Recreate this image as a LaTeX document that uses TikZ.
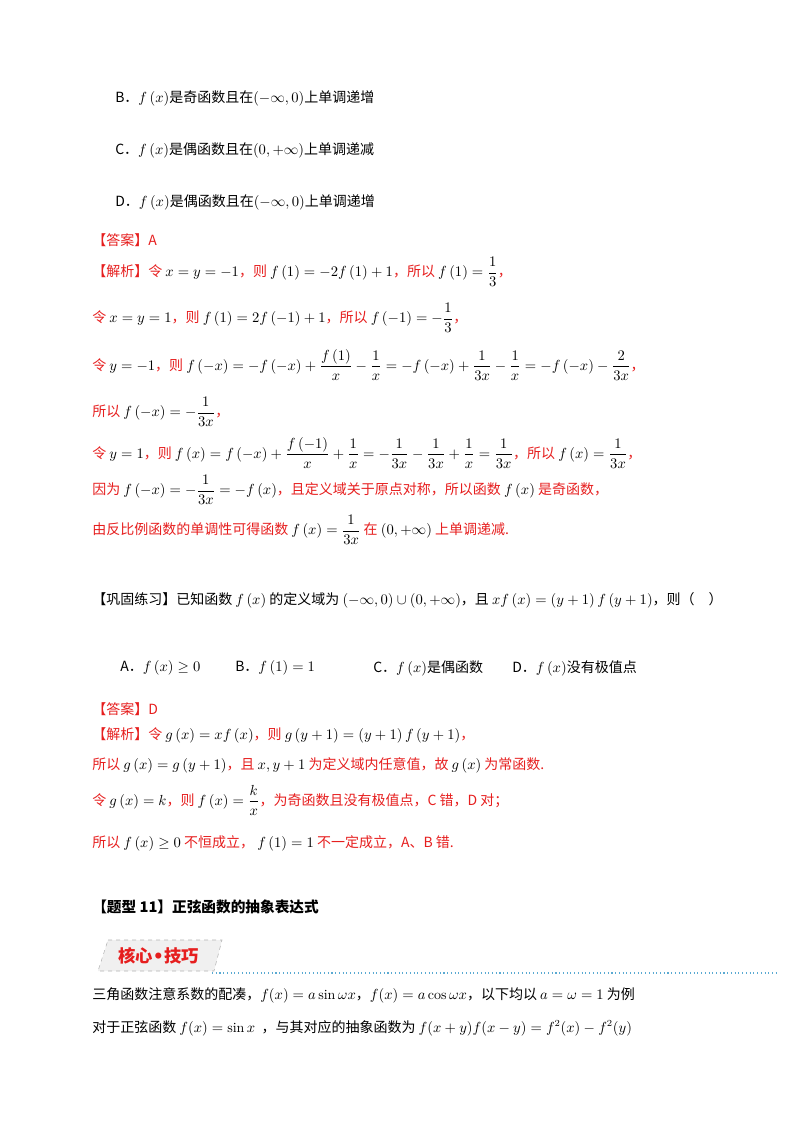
\documentclass[tikz,border=0pt]{standalone}
\usepackage{amsmath,amssymb}
\usepackage{fontspec}
\newfontfamily\cjk{Noto Sans CJK SC}
\definecolor{ansred}{RGB}{230,30,30}
\definecolor{linkblue}{RGB}{90,170,210}
\begin{document}
\begin{tikzpicture}[x=0.75pt,y=-0.75pt,
  txt/.style={anchor=west,inner sep=0pt,font=\cjk\fontsize{10.5}{12}\selectfont},
  red/.style={txt,text=ansred}]
\useasboundingbox (0,0) rectangle (800,1132);
\newcommand{\R}[1]{\textcolor{ansred}{#1}}
% options
\node[txt] (b) at (115,98) {B．$f\left(x\right)$是奇函数且在$\left(-\infty,0\right)$上单调递增};
\node[txt] (c) at (115,150) {C．$f\left(x\right)$是偶函数且在$\left(0,+\infty\right)$上单调递减};
\node[txt] (d) at (115,202) {D．$f\left(x\right)$是偶函数且在$\left(-\infty,0\right)$上单调递增};
\node[red] (ans1) at (92,240) {【答案】A};
\node[txt] (s1) at (92,272) {\R{【解析】令} $x=y=-1$\R{，则} $f\left(1\right)=-2f\left(1\right)+1$\R{，所以} $f\left(1\right)=\dfrac{1}{3}$\R{，}};
\node[txt] (s2) at (92,318) {\R{令} $x=y=1$\R{，则} $f\left(1\right)=2f\left(-1\right)+1$\R{，所以} $f\left(-1\right)=-\dfrac{1}{3}$\R{，}};
\node[txt] (s3) at (92,365) {\R{令} $y=-1$\R{，则} $f\left(-x\right)=-f\left(-x\right)+\dfrac{f\left(1\right)}{x}-\dfrac{1}{x}=-f\left(-x\right)+\dfrac{1}{3x}-\dfrac{1}{x}=-f\left(-x\right)-\dfrac{2}{3x}$\R{，}};
\node[txt] (s4) at (92,412) {\R{所以} $f\left(-x\right)=-\dfrac{1}{3x}$\R{，}};
\node[txt] (s5) at (92,453) {\R{令} $y=1$\R{，则} $f\left(x\right)=f\left(-x\right)+\dfrac{f\left(-1\right)}{x}+\dfrac{1}{x}=-\dfrac{1}{3x}-\dfrac{1}{3x}+\dfrac{1}{x}=\dfrac{1}{3x}$\R{，所以} $f\left(x\right)=\dfrac{1}{3x}$\R{，}};
\node[red] (s6) at (92,490) {因为 \textcolor{black}{$f\left(-x\right)=-\dfrac{1}{3x}=-f\left(x\right)$}，且定义域关于原点对称，所以函数 \textcolor{black}{$f\left(x\right)$} 是奇函数，};
\node[red] (s7) at (92,530) {由反比例函数的单调性可得函数 \textcolor{black}{$f\left(x\right)=\dfrac{1}{3x}$} 在 \textcolor{black}{$\left(0,+\infty\right)$} 上单调递减.};
% exercise
\node[txt] (q) at (92,600) {【巩固练习】已知函数 $f\left(x\right)$ 的定义域为 $\left(-\infty,0\right)\cup\left(0,+\infty\right)$，且 $xf\left(x\right)=\left(y+1\right)f\left(y+1\right)$，则（\quad）};
\node[txt] (oa) at (120,668) {A．$f\left(x\right)\geq 0$};
\node[txt] (ob) at (235,668) {B．$f\left(1\right)=1$};
\node[txt] (oc) at (373,668) {C．$f\left(x\right)$是偶函数};
\node[txt] (od) at (512,668) {D．$f\left(x\right)$没有极值点};
\node[red] (ans2) at (92,709) {【答案】D};
\node[txt] (t1) at (92,735) {\R{【解析】令} $g\left(x\right)=xf\left(x\right)$\R{，则} $g\left(y+1\right)=\left(y+1\right)f\left(y+1\right)$\R{，}};
\node[txt] (t2) at (92,765) {\R{所以} $g\left(x\right)=g\left(y+1\right)$\R{，且} $x,y+1$ \R{为定义域内任意值，故} $g\left(x\right)$ \R{为常函数.}};
\node[txt] (t3) at (92,800) {\R{令} $g\left(x\right)=k$\R{，则} $f\left(x\right)=\dfrac{k}{x}$\R{，为奇函数且没有极值点，C 错，D 对；}};
\node[txt] (t4) at (92,843) {\R{所以} $f\left(x\right)\geq 0$ \R{不恒成立，} $f\left(1\right)=1$ \R{不一定成立，A、B 错.}};
% section
\node[txt,font=\cjk\bfseries\fontsize{11}{13}\selectfont] (h) at (92,907) {【题型 11】正弦函数的抽象表达式};
\fill[gray!12] (108,940) -- (222,940) -- (214,971) -- (98,971) -- cycle;
\draw[gray!60,dashed] (108,940) -- (222,940) -- (214,971) -- (98,971) -- cycle;
\node[txt,font=\cjk\bfseries\fontsize{13}{15}\selectfont,text=ansred] (ban) at (118,956) {核心{\fontspec{DejaVu Sans}\textbullet}技巧};
\coordinate (l1) at (212,973);
\coordinate (l2) at (776,973);
\draw[linkblue,dotted,line width=0.8pt] (l1) -- (l2);
\node[txt] (u1) at (92,995) {三角函数注意系数的配凑，$f(x)=a\sin\omega x$，$f(x)=a\cos\omega x$，以下均以 $a=\omega=1$ 为例};
\node[txt] (u2) at (92,1028) {对于正弦函数 $f(x)=\sin x$ \ ，与其对应的抽象函数为 $f(x+y)f(x-y)=f^2(x)-f^2(y)$};
\end{tikzpicture}
\end{document}
